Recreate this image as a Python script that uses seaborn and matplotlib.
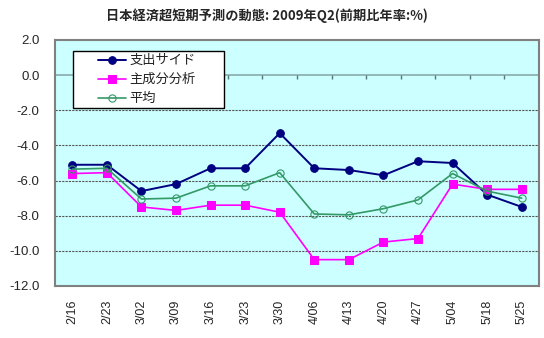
import matplotlib
matplotlib.use("Agg")
import matplotlib.pyplot as plt
import seaborn as sns
import pandas as pd
import numpy as np
from matplotlib.lines import Line2D
from matplotlib.legend_handler import HandlerLine2D

dates = ["2/16", "2/23", "3/02", "3/09", "3/16", "3/23", "3/30",
         "4/06", "4/13", "4/20", "4/27", "5/04", "5/18", "5/25"]
spending = [-5.1, -5.1, -6.6, -6.2, -5.3, -5.3, -3.3,
            -5.3, -5.4, -5.7, -4.9, -5.0, -6.8, -7.5]
principal = [-5.6, -5.55, -7.5, -7.7, -7.4, -7.4, -7.8,
             -10.5, -10.5, -9.5, -9.3, -6.2, -6.5, -6.5]
average = [-5.35, -5.3, -7.05, -7.0, -6.3, -6.3, -5.55,
           -7.9, -7.95, -7.6, -7.1, -5.6, -6.6, -7.0]
series_names = ["支出サイド", "主成分分析", "平均"]
title = "日本経済超短期予測の動態: 2009年Q2(前期比年率:%)"
yticks = [2.0, 0.0, -2.0, -4.0, -6.0, -8.0, -10.0, -12.0]

sns.set_style("white")
plt.rcParams['font.family'] = ['Noto Sans CJK JP', 'DejaVu Sans']

df = pd.DataFrame({"date": dates, "s": spending, "p": principal, "a": average})

fig = plt.figure(figsize=(5.44, 3.38), dpi=100)
ax = fig.add_axes([55/544, 1-286/338, 484/544, 246/338])
ax.set_facecolor("#CCFFFF")

sns.lineplot(data=df, x="date", y="s", ax=ax, color="#000080", lw=1.4,
             marker="o", markersize=5.5, markeredgecolor="#000080",
             markerfacecolor="#000080", label=series_names[0], sort=False)
sns.lineplot(data=df, x="date", y="p", ax=ax, color="#FF00FF", lw=1.2,
             marker="s", markersize=5.2, markeredgecolor="#FF00FF",
             markerfacecolor="#FF00FF", label=series_names[1], sort=False)
sns.lineplot(data=df, x="date", y="a", ax=ax, color="#339966", lw=1.2,
             marker="o", markersize=5.2, markeredgecolor="#339966",
             markerfacecolor="none", markeredgewidth=0.8,
             label=series_names[2], sort=False)

n = len(dates)
ax.set_xlim(-0.5, n - 0.5)
ax.set_ylim(-12, 2)
ax.set_yticks(yticks)
ax.set_yticklabels([f"{v:.1f}" for v in yticks], family="Liberation Sans",
                   fontsize=9.5)
ax.set_xticks(range(n))
ax.set_xticklabels(dates, rotation=90, family="Liberation Sans", fontsize=9,
                   va="top")
ax.tick_params(axis="y", length=0, pad=11.2)
ax.tick_params(axis="x", length=0, pad=10)
ax.set_xlabel("")
ax.set_ylabel("")

for v in yticks[2:-1]:
    ax.axhline(v, color="#555555", lw=0.8, ls=(0, (2, 1)), zorder=1)
ax.axhline(0, color="#88AAAA", lw=1.2, zorder=1)
ax.vlines(np.arange(n - 1) + 0.5, -0.22, 0, color="#557777", lw=1, zorder=1)

for sp in ax.spines.values():
    sp.set_color("#808080")
    sp.set_linewidth(1.5)
    sp.set_visible(True)

handles, labels = ax.get_legend_handles_labels()
leg = ax.legend(handles, labels, loc="upper left",
                bbox_to_anchor=(18/484, 0.0, 151/484, 1 - 11/246),
                mode="expand", borderaxespad=0, fancybox=False,
                edgecolor="black", framealpha=1, fontsize=9.5,
                handlelength=3.76, handletextpad=0.28, labelspacing=0.45,
                borderpad=0.25, numpoints=1,
                handler_map={Line2D: HandlerLine2D(xpad=1.64)})
leg.get_frame().set_linewidth(1.0)
for t in leg.get_texts():
    t.set_color("#222222")

fig.text(267/544, 1 - 15.5/338, title, ha="center", va="center",
         fontsize=9.5, fontweight="bold")

fig.savefig("out.png", dpi=100, facecolor="white")
